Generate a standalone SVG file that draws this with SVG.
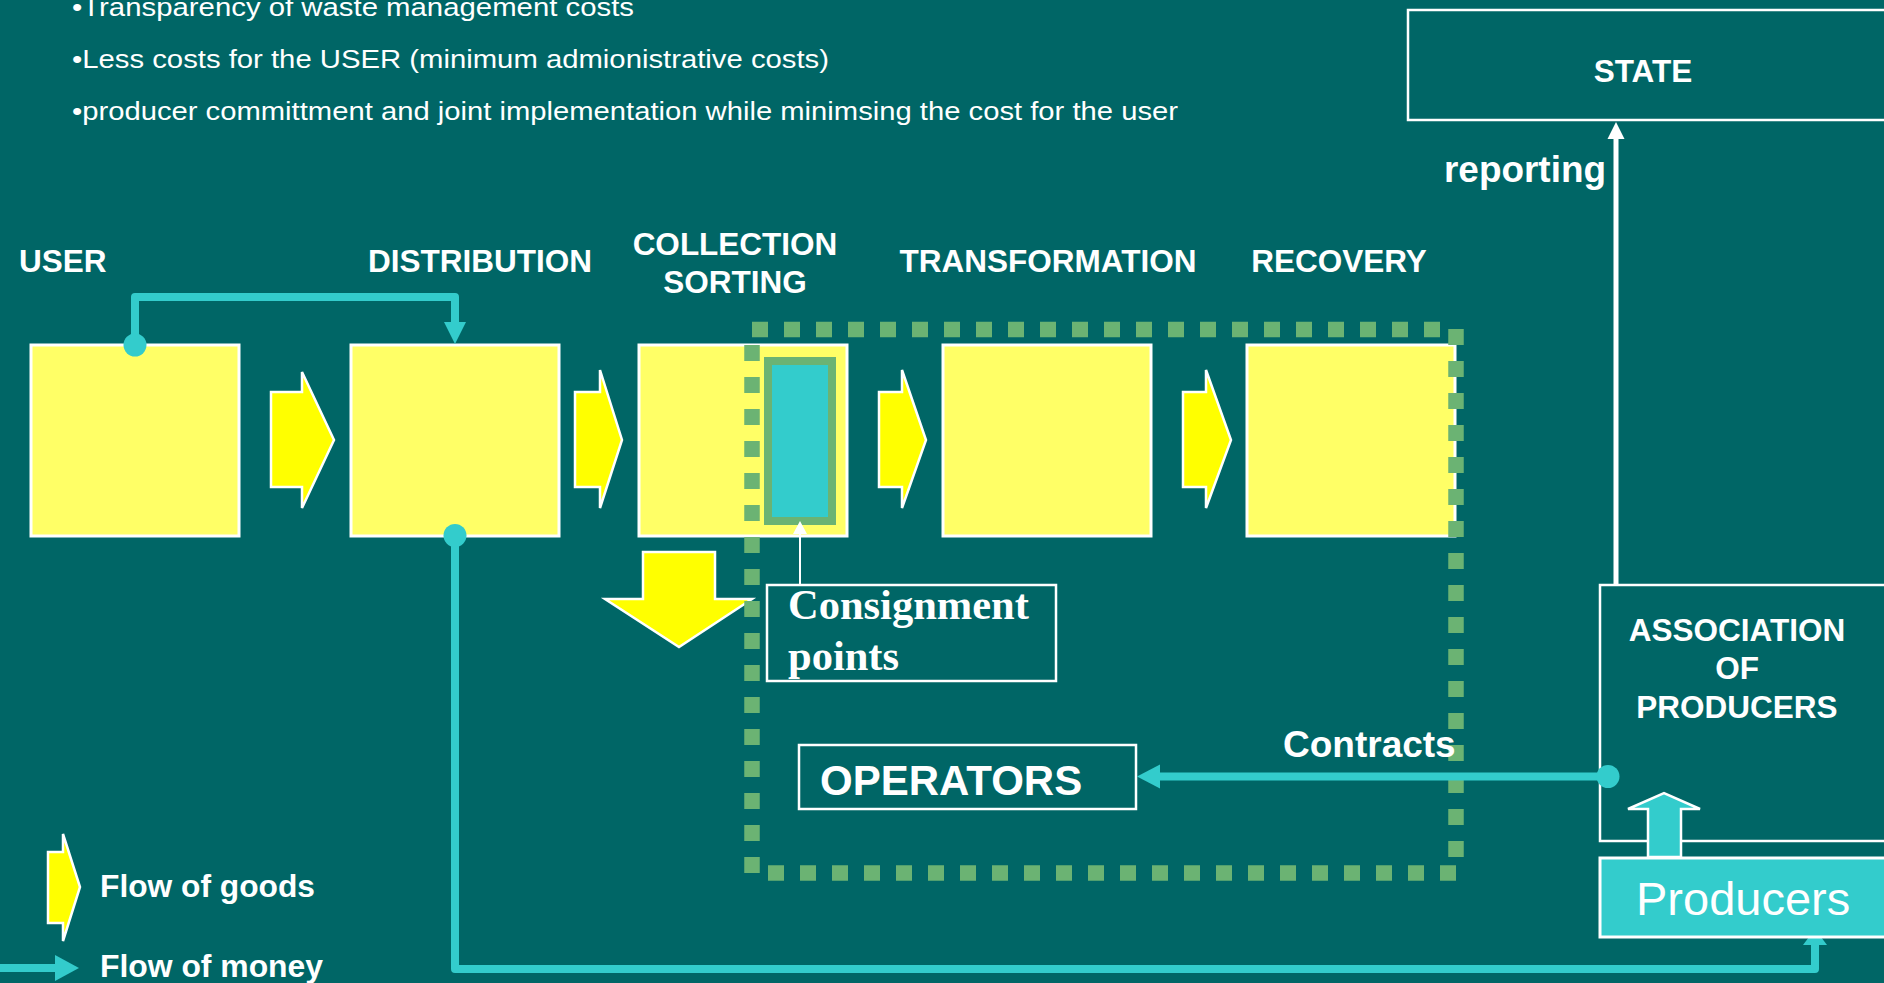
<svg xmlns="http://www.w3.org/2000/svg" width="1884" height="983" viewBox="0 0 1884 983">
  <style>
    text { font-family: "Liberation Sans", Arial, sans-serif; fill: #ffffff; }
    .bullet { font-size: 26px; }
    .lbl { font-size: 31.5px; font-weight: bold; }
    .stage { fill: #ffff66; stroke: #ffffff; stroke-width: 3; }
    .goods { fill: #ffff00; stroke: #ffffff; stroke-width: 2.5; stroke-linejoin: miter; }
    .frame { fill: none; stroke: #ffffff; stroke-width: 2.5; }
    .money { fill: none; stroke: #33cccc; stroke-width: 8; stroke-linejoin: round; stroke-linecap: butt; }
    .head { fill: #33cccc; }
    .zone { fill: none; stroke: #6bb373; stroke-width: 15.5; stroke-dasharray: 16 16; }
  </style>

  <!-- background -->
  <rect x="0" y="0" width="1884" height="983" fill="#006666"/>

  <!-- bullet points -->
  <g id="notes">
    <text class="bullet" x="72" y="16" textLength="562" lengthAdjust="spacingAndGlyphs">•Transparency of waste management costs</text>
    <text class="bullet" x="72" y="68" textLength="757" lengthAdjust="spacingAndGlyphs">•Less costs for the USER (minimum admionistrative costs)</text>
    <text class="bullet" x="72" y="120" textLength="1106" lengthAdjust="spacingAndGlyphs">•producer committment and joint implementation while minimsing the cost for the user</text>
  </g>

  <!-- chain stages -->
  <g id="user">
    <text class="lbl" x="19" y="272">USER</text>
    <rect class="stage" x="31" y="345" width="208" height="191"/>
  </g>
  <g id="distribution">
    <text class="lbl" x="480" y="272" text-anchor="middle">DISTRIBUTION</text>
    <rect class="stage" x="351" y="345" width="208" height="191"/>
  </g>
  <g id="collection">
    <text class="lbl" x="735" y="255" text-anchor="middle">COLLECTION</text>
    <text class="lbl" x="735" y="293" text-anchor="middle">SORTING</text>
    <rect class="stage" x="639" y="345" width="208" height="191"/>
  </g>
  <g id="transformation">
    <text class="lbl" x="1048" y="272" text-anchor="middle">TRANSFORMATION</text>
    <rect class="stage" x="943" y="345" width="208" height="191"/>
  </g>
  <g id="recovery">
    <text class="lbl" x="1339" y="272" text-anchor="middle">RECOVERY</text>
    <rect class="stage" x="1247" y="345" width="208" height="191"/>
  </g>

  <!-- goods flow arrows -->
  <g id="goods-flow">
    <polygon class="goods" points="271,392 302,392 302,372 334,440 302,508 302,487 271,487"/>
    <polygon class="goods" points="575,392 600,392 600,370 622,440 600,508 600,487 575,487"/>
    <polygon class="goods" points="879,392 902,392 902,370 926,440 902,508 902,487 879,487"/>
    <polygon class="goods" points="1183,392 1206,392 1206,370 1231,440 1206,508 1206,487 1183,487"/>
    <polygon class="goods" points="643,552 715,552 715,599 752,599 679,647 605,599 643,599"/>
  </g>

  <!-- operators zone (dotted frame) -->
  <g id="operators-zone">
    <line class="zone" x1="752" y1="329.5" x2="1456" y2="329.5"/>
    <line class="zone" x1="1456" y1="329" x2="1456" y2="860"/>
    <line class="zone" x1="768" y1="873" x2="1456" y2="873"/>
    <line class="zone" x1="752" y1="345" x2="752" y2="873"/>
  </g>

  <!-- consignment point inside collection -->
  <g id="consignment-slot">
    <rect x="768" y="361" width="64" height="160" fill="#33cccc" stroke="#6bb373" stroke-width="8"/>
  </g>

  <g id="consignment-points">
    <rect class="frame" x="767" y="585" width="289" height="96" stroke-width="2"/>
    <text x="788" y="619" style="font-family: 'Liberation Serif', 'Times New Roman', serif; font-size: 42.5px; font-weight: bold;">Consignment</text>
    <text x="788" y="670" style="font-family: 'Liberation Serif', 'Times New Roman', serif; font-size: 42.5px; font-weight: bold;">points</text>
  </g>

  <g id="operators">
    <rect class="frame" x="799" y="745" width="337" height="64"/>
    <text x="820" y="795" style="font-size: 42px; font-weight: bold;">OPERATORS</text>
  </g>

  <g id="state">
    <rect class="frame" x="1408" y="10" width="490" height="110" stroke-width="3"/>
    <text class="lbl" x="1643" y="82" text-anchor="middle">STATE</text>
  </g>

  <g id="association">
    <rect class="frame" x="1600" y="585" width="300" height="256"/>
    <text class="lbl" x="1737" y="641" text-anchor="middle">ASSOCIATION</text>
    <text class="lbl" x="1737" y="679" text-anchor="middle">OF</text>
    <text class="lbl" x="1737" y="718" text-anchor="middle">PRODUCERS</text>
  </g>

  <!-- connectors -->
  <g id="connectors">
    <!-- consignment callout -->
    <line x1="800" y1="585" x2="800" y2="532" stroke="#ffffff" stroke-width="2"/>
    <polygon points="793,534 807,534 800,521" fill="#ffffff"/>

    <!-- reporting -->
    <line x1="1616" y1="585" x2="1616" y2="136" stroke="#ffffff" stroke-width="5"/>
    <polygon points="1607.5,139 1624.5,139 1616,122" fill="#ffffff"/>
    <text x="1444" y="182" style="font-size: 36px; font-weight: bold;" textLength="162" lengthAdjust="spacingAndGlyphs">reporting</text>

    <!-- user pays distribution -->
    <path class="money" d="M135 345 V297 H455 V324"/>
    <circle class="head" cx="135" cy="345" r="11.5"/>
    <polygon class="head" points="444,322 466,322 455,344"/>

    <!-- distribution pays producers -->
    <path class="money" d="M455 536 V969 H1815 V942"/>
    <circle class="head" cx="455" cy="535.5" r="11.5"/>
    <polygon class="head" points="1803,945 1827,945 1815,929"/>

    <!-- contracts -->
    <line class="money" x1="1608" y1="776.5" x2="1158" y2="776.5" stroke-width="7"/>
    <circle class="head" cx="1608" cy="776.5" r="11.5"/>
    <polygon class="head" points="1160,764.5 1160,788.5 1137,776.5"/>
    <text x="1283" y="757" style="font-size: 37px; font-weight: bold;">Contracts</text>

    <!-- producers form the association -->
    <polygon points="1648,857 1648,809 1628,809 1664,793 1700,809 1681,809 1681,857" fill="#33cccc" stroke="#ffffff" stroke-width="2.5"/>
  </g>

  <g id="producers">
    <rect x="1600" y="858" width="300" height="79" fill="#33cccc" stroke="#ffffff" stroke-width="3"/>
    <text x="1636" y="915" style="font-size: 47px;">Producers</text>
  </g>

  <!-- legend -->
  <g id="legend">
    <polygon class="goods" points="48,852 63,852 63,834 80,887 63,941 63,923 48,923"/>
    <text class="lbl" x="100" y="897" textLength="215" lengthAdjust="spacingAndGlyphs">Flow of goods</text>
    <line x1="0" y1="968" x2="57" y2="968" stroke="#33cccc" stroke-width="8"/>
    <polygon class="head" points="55,955 79,968 55,981"/>
    <text class="lbl" x="100" y="977" textLength="223" lengthAdjust="spacingAndGlyphs">Flow of money</text>
  </g>
</svg>
